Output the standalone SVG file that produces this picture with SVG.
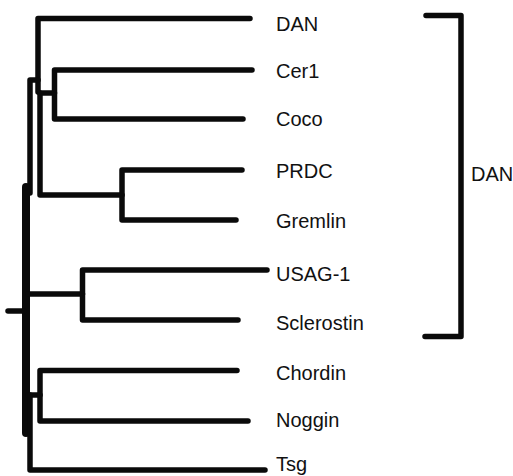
<svg xmlns="http://www.w3.org/2000/svg" width="513" height="476" viewBox="0 0 513 476">
<style>
.br{fill:none;stroke:#0a0a0a;stroke-width:5.5;stroke-linecap:round;stroke-linejoin:round}
.th{stroke-width:8}
.lb{font-family:"Liberation Sans",Arial,Helvetica,sans-serif;font-size:20px;fill:#111}
</style>
<rect width="513" height="476" fill="#fff"/>
<g id="connectors">
<path class="br" d="M250,18.5 H38 V92"/>
<path class="br" d="M38,80 H30 V193"/>
<path class="br th" d="M26,187 V433"/>
<path class="br" d="M8,311 H24"/>
<path class="br" d="M40,93 V195 H122"/>
<path class="br" d="M40,93 H54.5"/>
<path class="br" d="M252,70 H54.5 V119 H243"/>
<path class="br" d="M242,170 H122 V220 H236"/>
<path class="br" d="M28,294 H82.5"/>
<path class="br" d="M267,270 H82.5 V320 H238"/>
<path class="br" d="M28,395 H40"/>
<path class="br" d="M237,370.5 H40 V421 H248"/>
<path class="br" d="M30,395 V470 H265"/>
<path class="br" d="M426,15.5 H461 V336.5 H425"/>
</g>
<g id="DAN"><text class="lb" x="276" y="31">DAN</text></g>
<g id="Cer1"><text class="lb" x="276" y="78">Cer1</text></g>
<g id="Coco"><text class="lb" x="276" y="126">Coco</text></g>
<g id="PRDC"><text class="lb" x="276" y="178">PRDC</text></g>
<g id="Gremlin"><text class="lb" x="276" y="228">Gremlin</text></g>
<g id="USAG-1"><text class="lb" x="276" y="281">USAG-1</text></g>
<g id="Sclerostin"><text class="lb" x="276" y="330">Sclerostin</text></g>
<g id="Chordin"><text class="lb" x="276" y="380">Chordin</text></g>
<g id="Noggin"><text class="lb" x="276" y="427">Noggin</text></g>
<g id="Tsg"><text class="lb" x="276" y="471">Tsg</text></g>
<g id="DAN-family"><text class="lb" x="471" y="181">DAN</text></g>
</svg>
